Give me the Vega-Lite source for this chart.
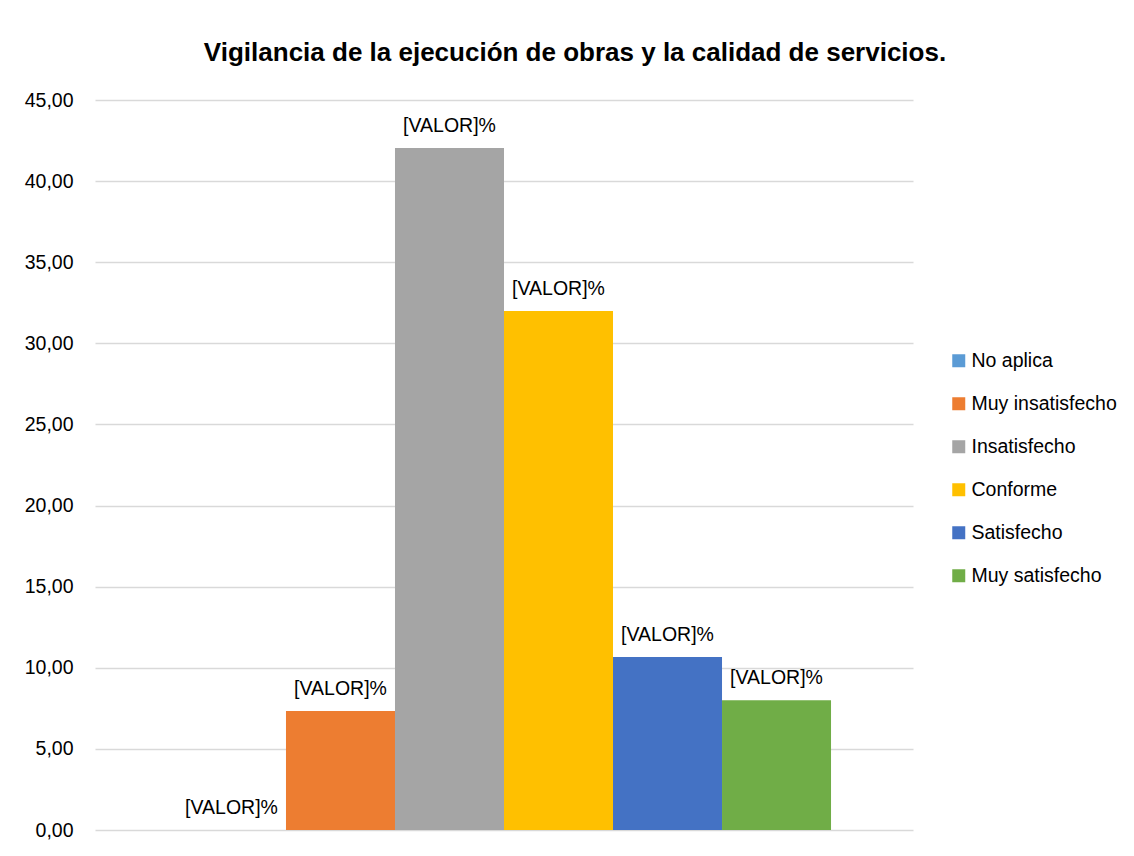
{
  "$schema": "https://vega.github.io/schema/vega-lite/v6.json",
  "width": 818,
  "height": 730,
  "autosize": {"type": "none"},
  "padding": {"left": 95, "top": 100, "right": 221, "bottom": 26},
  "background": "white",
  "title": {
    "text": "Vigilancia de la ejecución de obras y la calidad de servicios.",
    "font": "Liberation Sans",
    "fontSize": 26,
    "fontWeight": "bold",
    "color": "#000000",
    "anchor": "middle",
    "frame": "group",
    "dx": 71,
    "offset": 3,
    "baseline": "alphabetic"
  },
  "data": {
    "values": [
      {"cat": "No aplica", "value": 0},
      {"cat": "Muy insatisfecho", "value": 7.33},
      {"cat": "Insatisfecho", "value": 42.04},
      {"cat": "Conforme", "value": 32.0},
      {"cat": "Satisfecho", "value": 10.67},
      {"cat": "Muy satisfecho", "value": 8.0}
    ]
  },
  "encoding": {
    "x": {
      "field": "cat",
      "type": "nominal",
      "sort": ["No aplica", "Muy insatisfecho", "Insatisfecho", "Conforme", "Satisfecho", "Muy satisfecho"],
      "scale": {"paddingInner": 0, "paddingOuter": 0.752},
      "axis": null
    },
    "y": {
      "field": "value",
      "type": "quantitative",
      "scale": {"domain": [0, 45]},
      "axis": {
        "title": null,
        "values": [0, 5, 10, 15, 20, 25, 30, 35, 40, 45],
        "labelExpr": "replace(format(datum.value, '.2f'), '.', ',')",
        "domain": false,
        "ticks": false,
        "labelPadding": 22,
        "gridColor": "#D9D9D9",
        "gridWidth": 1.3,
        "labelFont": "Liberation Sans",
        "labelFontSize": 19.5,
        "labelColor": "#000000"
      }
    }
  },
  "layer": [
    {
      "mark": {"type": "bar"},
      "encoding": {
        "color": {
          "field": "cat",
          "type": "nominal",
          "scale": {
            "domain": ["No aplica", "Muy insatisfecho", "Insatisfecho", "Conforme", "Satisfecho", "Muy satisfecho"],
            "range": ["#5B9BD5", "#ED7D31", "#A5A5A5", "#FFC000", "#4472C4", "#70AD47"]
          },
          "legend": {
            "title": null,
            "orient": "none",
            "legendX": 854,
            "legendY": 251,
            "symbolType": "square",
            "symbolSize": 169,
            "symbolStrokeWidth": 0,
            "labelFont": "Liberation Sans",
            "labelFontSize": 19.5,
            "labelColor": "#000000",
            "rowPadding": 22,
            "labelOffset": 3
          }
        }
      }
    },
    {
      "mark": {
        "type": "text",
        "dy": -16,
        "baseline": "alphabetic",
        "font": "Liberation Sans",
        "fontSize": 19.5,
        "color": "#000000"
      },
      "encoding": {
        "text": {"value": "[VALOR]%"}
      }
    }
  ],
  "config": {"view": {"stroke": null}}
}
